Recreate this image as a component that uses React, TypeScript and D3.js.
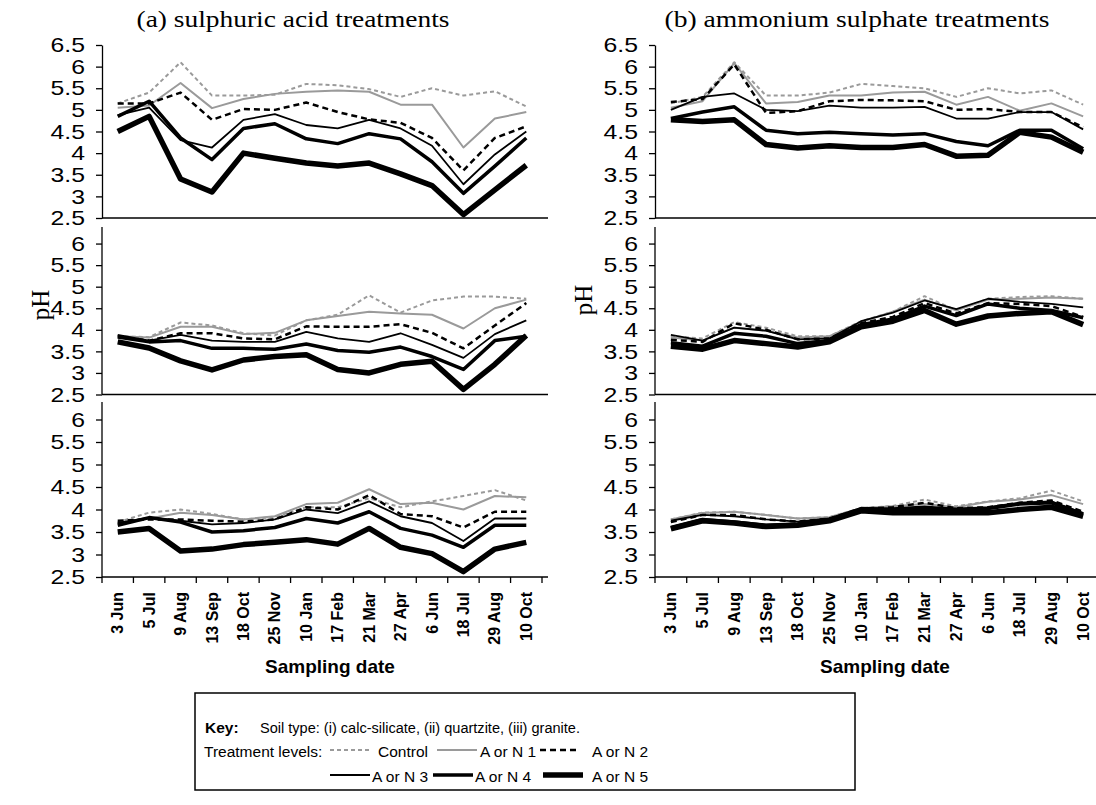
import React, { useEffect, useRef } from 'react'
import * as d3 from 'd3'

const dates = ['3 Jun', '5 Jul', '9 Aug', '13 Sep', '18 Oct', '25 Nov', '10 Jan', '17 Feb', '21 Mar', '27 Apr', '6 Jun', '18 Jul', '29 Aug', '10 Oct']
const treatments = ['Control', 'A or N 1', 'A or N 2', 'A or N 3', 'A or N 4', 'A or N 5']
const yTicks = [2.5, 3, 3.5, 4, 4.5, 5, 5.5, 6, 6.5]

// (a) sulphuric acid, rows = Control, 1..5
const acidCalcSilicate = [
  [5.15, 5.4, 6.1, 5.33, 5.33, 5.35, 5.6, 5.57, 5.48, 5.3, 5.5, 5.33, 5.43, 5.08],
  [5.05, 5.1, 5.62, 5.04, 5.25, 5.37, 5.42, 5.45, 5.42, 5.12, 5.12, 4.13, 4.8, 4.95],
  [5.15, 5.15, 5.4, 4.77, 5.02, 5.0, 5.17, 4.95, 4.78, 4.7, 4.35, 3.6, 4.35, 4.62],
  [4.88, 5.05, 4.3, 4.13, 4.77, 4.9, 4.65, 4.57, 4.77, 4.57, 4.17, 3.28, 3.97, 4.5],
  [4.85, 5.2, 4.35, 3.85, 4.57, 4.68, 4.33, 4.22, 4.45, 4.33, 3.8, 3.07, 3.7, 4.35],
  [4.5, 4.85, 3.4, 3.1, 4.0, 3.88, 3.77, 3.7, 3.77, 3.52, 3.25, 2.58, 3.15, 3.72],
]
const acidQuartzite = [
  [3.85, 3.83, 4.17, 4.1, 3.92, 3.87, 4.22, 4.35, 4.8, 4.4, 4.68, 4.77, 4.77, 4.72],
  [3.85, 3.82, 4.07, 4.07, 3.9, 3.93, 4.22, 4.32, 4.42, 4.38, 4.35, 4.03, 4.5, 4.7],
  [3.85, 3.75, 3.92, 3.92, 3.8, 3.78, 4.08, 4.07, 4.07, 4.13, 3.93, 3.57, 4.1, 4.62],
  [3.88, 3.75, 3.88, 3.75, 3.72, 3.72, 3.95, 3.8, 3.72, 3.92, 3.65, 3.35, 3.9, 4.22],
  [3.83, 3.72, 3.75, 3.57, 3.57, 3.55, 3.67, 3.52, 3.48, 3.6, 3.38, 3.08, 3.75, 3.85],
  [3.72, 3.58, 3.28, 3.07, 3.3, 3.38, 3.42, 3.08, 3.0, 3.2, 3.27, 2.62, 3.2, 3.87],
]
const acidGranite = [
  [3.72, 3.93, 4.0, 3.9, 3.78, 3.83, 4.05, 4.05, 4.25, 4.05, 4.18, 4.3, 4.43, 4.2],
  [3.7, 3.8, 3.93, 3.88, 3.78, 3.85, 4.12, 4.15, 4.45, 4.12, 4.15, 4.0, 4.3, 4.27],
  [3.75, 3.78, 3.78, 3.75, 3.73, 3.78, 4.05, 4.0, 4.32, 3.9, 3.85, 3.6, 3.95, 3.95],
  [3.7, 3.82, 3.75, 3.67, 3.7, 3.78, 4.0, 3.92, 4.18, 3.85, 3.7, 3.3, 3.8, 3.8],
  [3.65, 3.82, 3.72, 3.5, 3.53, 3.6, 3.8, 3.7, 3.95, 3.58, 3.43, 3.16, 3.65, 3.65],
  [3.5, 3.58, 3.08, 3.12, 3.22, 3.27, 3.33, 3.23, 3.58, 3.16, 3.02, 2.62, 3.12, 3.27],
]

// (b) ammonium sulphate
const ammCalcSilicate = [
  [5.15, 5.3, 6.1, 5.33, 5.33, 5.4, 5.6, 5.55, 5.5, 5.3, 5.5, 5.38, 5.45, 5.12],
  [5.05, 5.2, 6.08, 5.15, 5.18, 5.33, 5.33, 5.4, 5.42, 5.12, 5.3, 4.98, 5.15, 4.85],
  [5.18, 5.25, 6.05, 4.93, 4.97, 5.2, 5.23, 5.22, 5.2, 5.0, 5.02, 4.95, 4.95, 4.6],
  [5.0, 5.3, 5.38, 5.0, 4.97, 5.1, 5.05, 5.05, 5.07, 4.8, 4.8, 4.95, 4.95, 4.55],
  [4.8, 4.95, 5.07, 4.53, 4.45, 4.48, 4.45, 4.42, 4.45, 4.27, 4.17, 4.53, 4.53, 4.1],
  [4.77, 4.73, 4.77, 4.2, 4.12, 4.17, 4.13, 4.13, 4.2, 3.93, 3.95, 4.48, 4.37, 4.02],
]
const ammQuartzite = [
  [3.85, 3.8, 4.18, 4.05, 3.85, 3.85, 4.2, 4.42, 4.78, 4.45, 4.72, 4.76, 4.78, 4.72],
  [3.82, 3.75, 4.05, 3.98, 3.82, 3.85, 4.18, 4.42, 4.7, 4.45, 4.7, 4.72, 4.75, 4.72],
  [3.77, 3.72, 4.15, 4.0, 3.78, 3.8, 4.15, 4.3, 4.62, 4.38, 4.62, 4.6, 4.55, 4.3],
  [3.88, 3.75, 4.05, 3.98, 3.78, 3.8, 4.2, 4.4, 4.68, 4.48, 4.72, 4.65, 4.6, 4.52],
  [3.7, 3.62, 3.92, 3.85, 3.68, 3.75, 4.12, 4.25, 4.55, 4.33, 4.6, 4.5, 4.45, 4.28],
  [3.62, 3.55, 3.75, 3.68, 3.6, 3.72, 4.07, 4.2, 4.45, 4.13, 4.32, 4.38, 4.42, 4.12],
]
const ammGranite = [
  [3.78, 3.93, 3.95, 3.88, 3.8, 3.83, 4.03, 4.08, 4.22, 4.07, 4.18, 4.25, 4.42, 4.18],
  [3.78, 3.92, 3.95, 3.88, 3.8, 3.83, 4.03, 4.07, 4.12, 4.05, 4.17, 4.22, 4.32, 4.12],
  [3.72, 3.88, 3.88, 3.78, 3.73, 3.8, 4.02, 4.05, 4.15, 4.03, 4.05, 4.15, 4.2, 3.95],
  [3.75, 3.88, 3.85, 3.78, 3.73, 3.8, 4.02, 4.03, 4.07, 4.02, 4.05, 4.15, 4.18, 3.92],
  [3.6, 3.78, 3.72, 3.65, 3.68, 3.78, 4.02, 4.0, 4.02, 4.0, 4.02, 4.12, 4.15, 3.9],
  [3.57, 3.75, 3.7, 3.62, 3.65, 3.75, 3.97, 3.93, 3.93, 3.93, 3.93, 4.0, 4.05, 3.85],
]

const lineStyles = [
  { color: '#9a9a9a', width: 2, dash: '4,3' },
  { color: '#9a9a9a', width: 2, dash: null },
  { color: '#000', width: 2.5, dash: '6,4' },
  { color: '#000', width: 1.8, dash: null },
  { color: '#000', width: 3.5, dash: null },
  { color: '#000', width: 5.5, dash: null },
]

const cols = [[102, 542], [655, 1099]]
const rows = [[218, 45], [394.5, 222], [577, 397]]
const panels = [
  { data: acidCalcSilicate, col: 0, row: 0 },
  { data: acidQuartzite, col: 0, row: 1 },
  { data: acidGranite, col: 0, row: 2 },
  { data: ammCalcSilicate, col: 1, row: 0 },
  { data: ammQuartzite, col: 1, row: 1 },
  { data: ammGranite, col: 1, row: 2 },
]

const SANS = 'Liberation Sans, Arial, sans-serif'
const SERIF = 'Liberation Serif, Times New Roman, serif'

// widen text horizontally, like the stretched original
function stretch(sel, k) {
  sel.each(function () {
    const w = this.getComputedTextLength()
    d3.select(this).attr('textLength', w * k).attr('lengthAdjust', 'spacingAndGlyphs')
  })
}

export default function App() {
  const ref = useRef(null)

  useEffect(() => {
    const svg = d3.select(ref.current)
    svg.selectAll('*').remove()

    panels.forEach(p => {
      const x = d3.scaleBand().domain(dates).range(cols[p.col])
      const y = d3.scaleLinear().domain([2.5, 6.5]).range(rows[p.row])
      const g = svg.append('g')

      // y axis
      const yAxis = d3
        .axisLeft(y)
        .tickValues(p.row === 0 ? yTicks : yTicks.slice(0, -1))
        .tickSize(6)
        .tickSizeOuter(0)
        .tickPadding(11)
        .tickFormat(d3.format(''))
      const ya = g
        .append('g')
        .attr('transform', `translate(${cols[p.col][0]},0)`)
        .call(yAxis)
      ya.selectAll('text').style('font-family', SANS).style('font-size', '21px').attr('fill', '#000')
      ya.selectAll('line, path').attr('stroke', '#000').attr('stroke-width', 1.3)
      if (p.row > 0) ya.select('.domain').attr('d', `M0,${y(6.5) + 5}V${y(2.5)}`)
      stretch(ya.selectAll('text'), 1.18)

      // x axis line
      g.append('line')
        .attr('x1', cols[p.col][0])
        .attr('x2', cols[p.col][1] + 6)
        .attr('y1', y(2.5))
        .attr('y2', y(2.5))
        .attr('stroke', '#000')
        .attr('stroke-width', 1.3)

      if (p.row === 2) {
        const edges = d3.range(dates.length + 1).map(i => cols[p.col][0] + i * x.step())
        g.selectAll('line.xt')
          .data(edges)
          .enter()
          .append('line')
          .attr('class', 'xt')
          .attr('x1', d => d)
          .attr('x2', d => d)
          .attr('y1', y(2.5))
          .attr('y2', y(2.5) + 6)
          .attr('stroke', '#000')
          .attr('stroke-width', 1.3)
        g.selectAll('text.xl')
          .data(dates)
          .enter()
          .append('text')
          .attr('class', 'xl')
          .attr('transform', d => `translate(${x(d) + x.bandwidth() / 2},${y(2.5) + 15}) rotate(-90)`)
          .attr('text-anchor', 'end')
          .attr('dy', '0.35em')
          .style('font-family', SANS)
          .style('font-size', '16px')
          .style('font-weight', 'bold')
          .text(d => d)
        g.append('text')
          .attr('x', p.col === 0 ? 330 : 885)
          .attr('y', 673)
          .attr('text-anchor', 'middle')
          .style('font-family', SANS)
          .style('font-size', '19px')
          .style('font-weight', 'bold')
          .text('Sampling date')
      }

      const line = d3
        .line()
        .x((d, i) => x(dates[i]) + x.bandwidth() / 2)
        .y(d => y(d))

      g.selectAll('path.series')
        .data(p.data)
        .enter()
        .append('path')
        .attr('class', 'series')
        .attr('d', d => line(d))
        .attr('fill', 'none')
        .attr('stroke', (d, i) => lineStyles[i].color)
        .attr('stroke-width', (d, i) => lineStyles[i].width)
        .attr('stroke-dasharray', (d, i) => lineStyles[i].dash)
        .attr('stroke-linejoin', 'round')
    })

    // titles
    svg.append('text').attr('x', 293).attr('y', 27).attr('text-anchor', 'middle')
      .attr('textLength', 313).attr('lengthAdjust', 'spacingAndGlyphs')
      .style('font-family', SERIF).style('font-size', '24px').text('(a) sulphuric acid treatments')
    svg.append('text').attr('x', 857).attr('y', 27).attr('text-anchor', 'middle')
      .attr('textLength', 385).attr('lengthAdjust', 'spacingAndGlyphs')
      .style('font-family', SERIF).style('font-size', '24px').text('(b) ammonium sulphate treatments')
    ;[[40, 305], [583, 300]].forEach(([px, py]) => {
      svg.append('text').attr('transform', `translate(${px},${py}) rotate(-90)`)
        .attr('text-anchor', 'middle').attr('dy', '0.35em')
        .style('font-family', SERIF).style('font-size', '25px').text('pH')
    })

    // key
    const key = svg.append('g').style('font-family', SANS).style('font-size', '15.5px')
    key.append('rect').attr('x', 195).attr('y', 693).attr('width', 660).attr('height', 97)
      .attr('fill', 'none').attr('stroke', '#000').attr('stroke-width', 1.5)
    key.append('text').attr('x', 205).attr('y', 733).style('font-weight', 'bold').text('Key:')
    key.append('text').attr('x', 260).attr('y', 733).attr('textLength', 320).attr('lengthAdjust', 'spacingAndGlyphs')
      .text('Soil type: (i) calc-silicate, (ii) quartzite, (iii) granite.')
    key.append('text').attr('x', 204).attr('y', 757).text('Treatment levels:')
    const keyPos = [[330, 750, 378], [437, 750, 480], [540, 750, 592], [330, 775, 372], [433, 775, 475], [543, 775, 592]]
    treatments.forEach((t, i) => {
      const [kx, ky, tx] = keyPos[i]
      const s = lineStyles[i]
      key.append('line').attr('x1', kx).attr('x2', kx + 40).attr('y1', ky).attr('y2', ky)
        .attr('stroke', s.color).attr('stroke-width', s.width).attr('stroke-dasharray', s.dash)
      key.append('text').attr('x', tx).attr('y', ky + 7).text(t)
    })
  }, [])

  return <svg ref={ref} width={1096} height={805} style={{ position: 'absolute', left: 0, top: 0, background: '#fff' }} />
}
